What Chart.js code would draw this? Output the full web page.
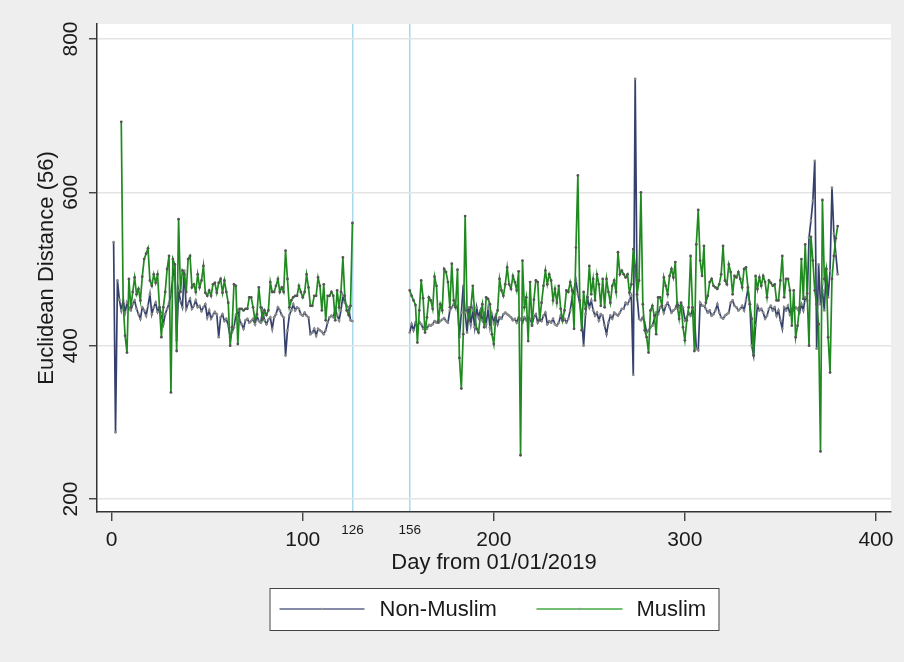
<!DOCTYPE html>
<html>
<head>
<meta charset="utf-8">
<script src="https://cdn.jsdelivr.net/npm/chart.js@4.4.1/dist/chart.umd.min.js"></script>
<style>
  html, body { margin: 0; padding: 0; background: #eeeeee; }
  #wrap { width: 904px; height: 662px; }
</style>
</head>
<body>
<div id="wrap"><canvas id="chart" width="904" height="662"></canvas></div>
<script>
// Day numbers where each run of data starts
const nonMuslimEarlyStart = 1;
const muslimEarlyStart = 5;
const lateStart = 156;

// Non-Muslim, days 1..126
const nonMuslimEarly = [535,287,485,460,446,459,443,456,448,446,
  454,459,448,441,435,450,446,439,452,467,
  441,450,456,444,450,441,428,441,448,455,
  467,489,506,407,472,458,450,498,448,455,
  461,448,452,459,450,452,445,450,454,437,
  446,435,440,444,441,411,437,441,432,435,
  426,411,418,424,440,446,433,428,422,433,
  435,430,432,435,428,439,432,430,446,433,
  428,434,437,422,437,441,450,446,440,437,
  387,420,440,446,454,446,450,448,441,439,
  443,439,437,415,417,422,413,422,420,418,
  415,420,430,437,439,437,448,440,433,446,
  465,456,452,450,433,432];

// Muslim, days 5..126
const muslimEarly = [692,455,413,391,487,450,470,489,467,474,
  459,490,513,520,527,485,478,493,482,493,
  450,411,450,470,500,517,339,513,506,393,
  565,470,498,493,470,513,517,476,480,470,
  493,476,485,504,469,465,472,465,480,482,
  469,482,487,469,485,470,456,400,424,480,
  478,402,448,448,446,448,448,463,463,450,
  433,441,476,450,435,446,440,446,483,470,
  470,478,487,470,476,470,524,487,450,459,
  463,465,465,478,470,463,470,493,476,452,
  452,465,465,489,478,446,480,433,465,465,
  470,465,433,472,450,470,515,465,446,440,
  452,560];

// Non-Muslim, days 156..380
const nonMuslimLate = [417,428,420,430,424,431,428,422,426,422,
  427,426,428,432,430,434,432,434,436,432,
  430,446,450,454,450,452,411,443,478,443,
  417,450,428,446,424,450,437,446,433,441,
  428,448,424,441,430,439,428,437,435,441,
  443,441,439,437,433,435,430,437,435,430,
  437,433,437,435,428,
  437,441,430,435,432,439,443,428,432,430,
  435,428,426,430,439,432,435,430,435,446,
  463,474,485,467,456,437,400,441,463,450,
  459,446,439,443,433,441,439,426,415,430,
  439,435,443,441,439,443,448,448,456,454,
  459,465,362,748,465,435,433,437,430,417,
  420,424,426,
  435,443,441,450,452,443,452,456,450,443,
  446,448,456,450,454,450,433,437,443,439,
  448,439,396,394,456,452,452,448,443,446,
  439,441,446,454,443,437,435,439,441,443,
  456,459,452,450,446,448,452,446,459,474,
  454,400,387,426,452,446,448,443,435,439,
  448,452,446,450,439,446,433,422,450,446,
  452,441,448,446,450,448,443,454,446,463,
  459,541,563,589,641,396,506,454,472,446,
  500,463,498,606,546,520,493];

// Muslim, days 156..380
const muslimLate = [472,465,459,453,404,446,485,462,417,437,
  463,459,448,490,478,430,454,446,500,496,
  483,450,507,459,450,499,384,344,415,569,
  446,433,450,478,441,422,417,439,454,424,
  463,461,454,415,402,437,446,487,472,465,
  480,502,480,474,491,483,472,497,257,511,
  450,463,406,
  483,426,460,485,483,433,456,478,498,480,
  493,485,459,474,456,478,448,433,446,472,
  470,483,472,422,528,622,459,420,470,448,
  463,504,467,487,459,493,480,452,487,450,
  487,470,456,478,485,470,522,493,498,493,
  489,493,469,480,526,504,467,485,600,454,
  420,411,391,446,452,
  439,415,463,463,452,489,478,467,491,500,
  489,509,452,435,456,424,407,433,450,517,
  450,393,532,577,511,491,530,456,465,483,
  487,478,476,474,480,493,530,485,480,506,
  496,467,491,489,496,487,476,500,502,476,
  454,435,387,491,474,489,478,491,483,463,
  485,482,478,480,459,459,485,517,463,487,
  487,472,426,472,411,426,450,513,461,532,
  468,400,542,511,472,454,428,262,590,487,
  500,411,365,487,517,540,556];

const xTicks = [0, 100, 126, 156, 200, 300, 400];
const yTicks = [200, 400, 600, 800];
const markedDays = [126, 156];
const seriesNames = ['Non-Muslim', 'Muslim'];

const NAVY = '#35416c';
const GREEN = '#1f8a1f';
const FONT = '"Liberation Sans", Arial, sans-serif';

function toPoints(start, values) {
    return values.map(function (v, i) { return {x: start + i, y: v}; });
}

// null point keeps the two periods from being joined
const nonMuslimData = toPoints(nonMuslimEarlyStart, nonMuslimEarly)
    .concat([{x: 140, y: null}], toPoints(lateStart, nonMuslimLate));
const muslimData = toPoints(muslimEarlyStart, muslimEarly)
    .concat([{x: 140, y: null}], toPoints(lateStart, muslimLate));

function isMarked(ctx) {
    return ctx.tick && markedDays.indexOf(ctx.tick.value) !== -1;
}

const background = {
    id: 'background',
    beforeDraw(chart) {
        const {ctx, chartArea} = chart;
        ctx.save();
        ctx.fillStyle = '#eeeeee';
        ctx.fillRect(0, 0, chart.width, chart.height);
        ctx.fillStyle = '#ffffff';
        ctx.fillRect(chartArea.left, chartArea.top, chartArea.right - chartArea.left, chartArea.bottom - chartArea.top);
        ctx.restore();
    }
};

// Stata style legend: framed box under the axis title
const legendBox = {
    id: 'legendBox',
    afterDraw(chart) {
        const {ctx, chartArea} = chart;
        const cx = (chartArea.left + chartArea.right) / 2;
        const left = cx - 224.5, top = 588, w = 449, h = 42;
        const midY = top + h / 2;
        ctx.save();
        ctx.fillStyle = '#ffffff';
        ctx.fillRect(left, top, w, h);
        ctx.strokeStyle = '#444444';
        ctx.lineWidth = 1;
        ctx.strokeRect(left + 0.5, top + 0.5, w, h);

        const items = [
            {name: seriesNames[0], color: '#5d6589', x0: 10, x1: 95, tx: 110},
            {name: seriesNames[1], color: '#43a843', x0: 267, x1: 353, tx: 367}
        ];
        items.forEach(function (it) {
            ctx.strokeStyle = it.color;
            ctx.lineWidth = 1.5;
            ctx.beginPath();
            ctx.moveTo(left + it.x0, midY);
            ctx.lineTo(left + it.x1, midY);
            ctx.stroke();
            ctx.fillStyle = '#999999';
            ctx.beginPath();
            ctx.arc(left + (it.x0 + it.x1) / 2, midY, 1.2, 0, Math.PI * 2);
            ctx.fill();
            ctx.fillStyle = '#1a1a1a';
            ctx.font = '22px ' + FONT;
            ctx.textBaseline = 'middle';
            ctx.textAlign = 'left';
            ctx.fillText(it.name, left + it.tx, midY + 1);
        });
        ctx.restore();
    }
};

Chart.defaults.font.family = FONT;
Chart.defaults.color = '#1a1a1a';

new Chart(document.getElementById('chart'), {
    type: 'line',
    data: {
        datasets: [
            {
                label: seriesNames[0],
                data: nonMuslimData,
                borderColor: NAVY,
                borderWidth: 1.7,
                pointRadius: 1.4,
                pointBorderWidth: 0,
                pointBackgroundColor: '#8a8a8a',
                tension: 0,
                spanGaps: false,
                order: 2
            },
            {
                label: seriesNames[1],
                data: muslimData,
                borderColor: GREEN,
                borderWidth: 1.7,
                pointRadius: 1.4,
                pointBorderWidth: 0,
                pointBackgroundColor: '#555555',
                tension: 0,
                spanGaps: false,
                order: 1
            }
        ]
    },
    options: {
        responsive: false,
        devicePixelRatio: 1,
        animation: false,
        layout: {padding: {left: 0, right: 13, top: 24, bottom: 87}},
        plugins: {
            legend: {display: false},
            tooltip: {enabled: false}
        },
        scales: {
            x: {
                type: 'linear',
                min: -7.7,
                max: 407.9,
                afterBuildTicks: function (scale) {
                    scale.ticks = xTicks.map(function (v) { return {value: v}; });
                },
                afterFit: function (scale) { scale.height = 63; },
                ticks: {
                    autoSkip: false,
                    maxRotation: 0,
                    padding: 0,
                    color: '#1a1a1a',
                    font: function (ctx) {
                        return isMarked(ctx) ? {size: 13.5, lineHeight: 1.44} : {size: 21, lineHeight: 1.876};
                    },
                    callback: function (v) { return String(v); }
                },
                grid: {
                    drawOnChartArea: true,
                    color: function (ctx) { return isMarked(ctx) ? '#a9d9ee' : 'rgba(0,0,0,0)'; },
                    lineWidth: 1.5,
                    tickColor: function (ctx) { return isMarked(ctx) ? 'rgba(0,0,0,0)' : '#333333'; },
                    tickLength: 9,
                    tickWidth: 1.3
                },
                border: {display: true, color: '#333333', width: 1.5},
                title: {
                    display: true,
                    text: 'Day from 01/01/2019',
                    color: '#1a1a1a',
                    font: {size: 22, lineHeight: 1},
                    padding: {top: 0, bottom: 1}
                }
            },
            y: {
                min: 183,
                max: 819.6,
                afterBuildTicks: function (scale) {
                    scale.ticks = yTicks.map(function (v) { return {value: v}; });
                },
                afterFit: function (scale) { scale.width = 97; },
                ticks: {
                    minRotation: 90,
                    maxRotation: 90,
                    crossAlign: 'center',
                    padding: 0,
                    color: '#1a1a1a',
                    font: {size: 21},
                    callback: function (v) { return String(v); }
                },
                grid: {
                    color: '#e4e4e4',
                    lineWidth: 1.5,
                    tickColor: '#333333',
                    tickLength: 8,
                    tickWidth: 1.3
                },
                border: {display: true, color: '#333333', width: 1.5},
                title: {
                    display: true,
                    text: 'Euclidean Distance (56)',
                    color: '#1a1a1a',
                    font: {size: 22, lineHeight: 1},
                    padding: {top: 36, bottom: 0}
                }
            }
        }
    },
    plugins: [background, legendBox]
});
</script>
</body>
</html>
